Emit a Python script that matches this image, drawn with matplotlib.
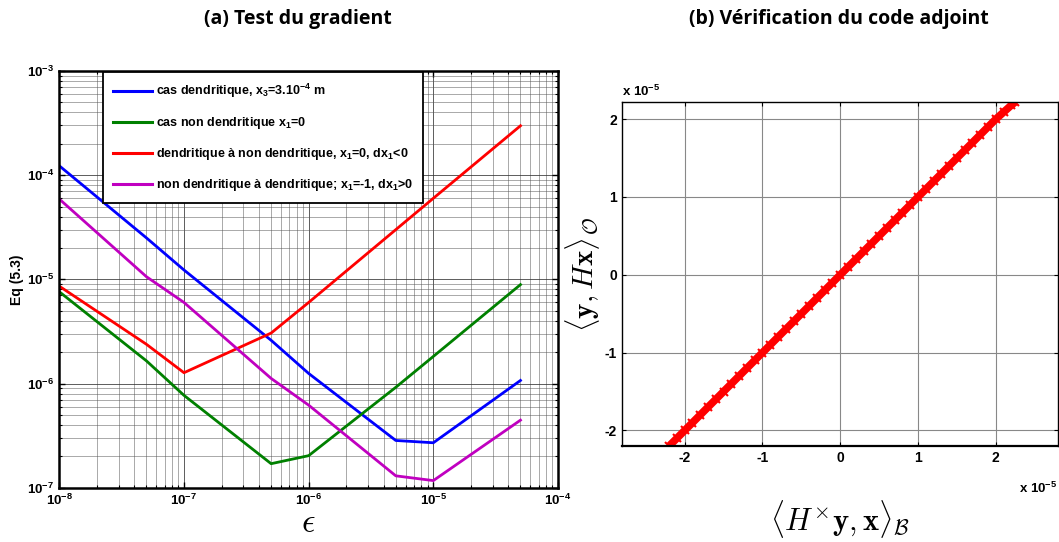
import numpy as np
import matplotlib.pyplot as plt
from matplotlib.ticker import LogLocator, FixedLocator, NullFormatter, FuncFormatter

plt.rcParams['font.family'] = ['Liberation Sans', 'DejaVu Sans']
plt.rcParams['font.weight'] = 'bold'
plt.rcParams['axes.unicode_minus'] = False
plt.rcParams['mathtext.fontset'] = 'custom'
plt.rcParams['mathtext.rm'] = 'Liberation Sans:bold'
plt.rcParams['mathtext.it'] = 'Liberation Sans:bold'
plt.rcParams['mathtext.bf'] = 'Liberation Sans:bold'
plt.rcParams['mathtext.default'] = 'it'

# (a) gradient test: epsilon vs Eq (5.3)
eps = [1e-8, 5e-8, 1e-7, 5e-7, 1e-6, 5e-6, 1e-5, 5e-5]
cas_dendritique = [1.23e-4, 2.5e-5, 1.23e-5, 2.6e-6, 1.25e-6, 2.84e-7, 2.7e-7, 1.07e-6]
cas_non_dendritique = [7.6e-6, 1.65e-6, 7.7e-7, 1.70e-7, 2.03e-7, 9.2e-7, 1.82e-6, 8.9e-6]
dendr_to_non = [8.6e-6, 2.38e-6, 1.27e-6, 3.05e-6, 6.0e-6, 3.0e-5, 6.0e-5, 2.98e-4]
non_to_dendr = [5.9e-5, 1.06e-5, 6.0e-6, 1.12e-6, 6.2e-7, 1.30e-7, 1.17e-7, 4.45e-7]

series = [
    (cas_dendritique, '#0000ff', r'cas dendritique, x$_3$=3.10$^{-4}$ m'),
    (cas_non_dendritique, '#008000', r'cas non dendritique x$_1$=0'),
    (dendr_to_non, '#ff0000', r'dendritique à non dendritique, x$_1$=0, dx$_1$<0'),
    (non_to_dendr, '#c000c0', r'non dendritique à dendritique; x$_1$=-1, dx$_1$>0'),
]

# (b) adjoint check, values in units of 1e-5
adj_x = [-2.20, -2.10, -2.00, -1.90, -1.80, -1.70, -1.60, -1.50, -1.40, -1.30, -1.20,
         -1.10, -1.00, -0.90, -0.80, -0.70, -0.60, -0.50, -0.40, -0.30, -0.20, -0.10,
         0.00, 0.10, 0.20, 0.30, 0.40, 0.50, 0.60, 0.70, 0.80, 0.90, 1.00, 1.10, 1.20,
         1.30, 1.40, 1.50, 1.60, 1.70, 1.80, 1.90, 2.00, 2.10, 2.20, 2.25]
adj_y = [-2.20, -2.10, -2.00, -1.90, -1.80, -1.70, -1.60, -1.50, -1.40, -1.30, -1.20,
         -1.10, -1.00, -0.90, -0.80, -0.70, -0.60, -0.50, -0.40, -0.30, -0.20, -0.10,
         0.00, 0.10, 0.20, 0.30, 0.40, 0.50, 0.60, 0.70, 0.80, 0.90, 1.00, 1.10, 1.20,
         1.30, 1.40, 1.50, 1.60, 1.70, 1.80, 1.90, 2.00, 2.09, 2.18, 2.22]
adj_ticks = [-2, -1, 0, 1, 2]

W, H = 1059, 542
fig = plt.figure(figsize=(W / 100, H / 100), dpi=100)

# ---- left panel ----
ax1 = fig.add_axes([59.3 / W, 1 - 487.7 / H, 498.7 / W, 416.7 / H])
for vals, col, lab in series:
    ax1.plot(eps, vals, color=col, linewidth=2.0, label=lab)
ax1.set_xscale('log')
ax1.set_yscale('log')
ax1.set_xlim(1e-8, 1e-4)
ax1.set_ylim(1e-7, 1e-3)
ax1.xaxis.set_major_locator(LogLocator(base=10, numticks=10))
ax1.yaxis.set_major_locator(LogLocator(base=10, numticks=10))
ax1.xaxis.set_minor_locator(LogLocator(base=10, subs=np.arange(2, 10), numticks=20))
ax1.yaxis.set_minor_locator(LogLocator(base=10, subs=np.arange(2, 10), numticks=20))
ax1.xaxis.set_minor_formatter(NullFormatter())
ax1.yaxis.set_minor_formatter(NullFormatter())
dec_fmt = FuncFormatter(lambda v, p: r'10$^{%d}$' % int(round(np.log10(v))))
ax1.xaxis.set_major_formatter(dec_fmt)
ax1.yaxis.set_major_formatter(dec_fmt)
ax1.grid(True, which='major', color='#333333', linewidth=0.7, alpha=0.8)
ax1.grid(True, which='minor', color='#555555', linewidth=0.5, alpha=0.7)
ax1.tick_params(which='both', direction='in', top=True, right=True, labelsize=9.5)
ax1.tick_params(which='major', length=4, width=1)
ax1.tick_params(which='minor', length=2, width=0.8)
for s in ax1.spines.values():
    s.set_linewidth(1.8)
ax1.set_ylabel('Eq (5.3)', fontsize=10, fontweight='bold', labelpad=2)
ax1.set_xlabel(r'$\epsilon$', fontsize=24, math_fontfamily='cm', labelpad=0)
leg = ax1.legend(loc='upper left', bbox_to_anchor=(44 / 498.7, 1 - 1 / 416.7),
                 fontsize=9, frameon=True, fancybox=False, framealpha=1,
                 edgecolor='black', handlelength=3.1, labelspacing=1.2,
                 borderpad=0.78, handletextpad=0.35, borderaxespad=0)
leg.get_frame().set_linewidth(1.3)
for line in leg.get_lines():
    line.set_linewidth(2.2)

# ---- right panel ----
ax2 = fig.add_axes([621.7 / W, 1 - 446 / H, 436.3 / W, 343.7 / H])
ax2.plot(adj_x, adj_y, color='#ff0000', linewidth=5.5,
         marker='x', markersize=6, markeredgewidth=1.5, solid_capstyle='butt')
ax2.set_xlim(-2.81, 2.8)
ax2.set_ylim(-2.2, 2.217)
ax2.xaxis.set_major_locator(FixedLocator(adj_ticks))
ax2.yaxis.set_major_locator(FixedLocator(adj_ticks))
ax2.grid(True, color='#888888', linewidth=0.8)
ax2.tick_params(direction='in', top=True, right=True, labelsize=10, length=3)
for s in ax2.spines.values():
    s.set_linewidth(1.0)
ax2.spines['bottom'].set_linewidth(1.6)
ax2.set_xlabel(r'$\langle H^{\times}\mathbf{y},\mathbf{x}\rangle_{\mathcal{B}}$',
               fontsize=22, math_fontfamily='cm', labelpad=24)
ax2.set_ylabel(r'$\langle \mathbf{y}, H\mathbf{x}\rangle_{\mathcal{O}}$',
               fontsize=21, math_fontfamily='cm', labelpad=2)
fig.text(622 / W, 1 - 96 / H, r'x 10$^{-5}$', fontsize=9.5, fontweight='bold')
fig.text(1057 / W, 1 - 493 / H, r'x 10$^{-5}$', fontsize=9.5, fontweight='bold', ha='right')

# titles
fig.text(298 / W, 1 - 19 / H, '(a) Test du gradient', fontsize=14, fontweight='bold',
         family=['Open Sans', 'DejaVu Sans'], ha='center', va='center')
fig.text(839 / W, 1 - 19 / H, '(b) Vérification du code adjoint', fontsize=14,
         fontweight='bold', family=['Open Sans', 'DejaVu Sans'], ha='center', va='center')

fig.savefig('out.png', dpi=100)
